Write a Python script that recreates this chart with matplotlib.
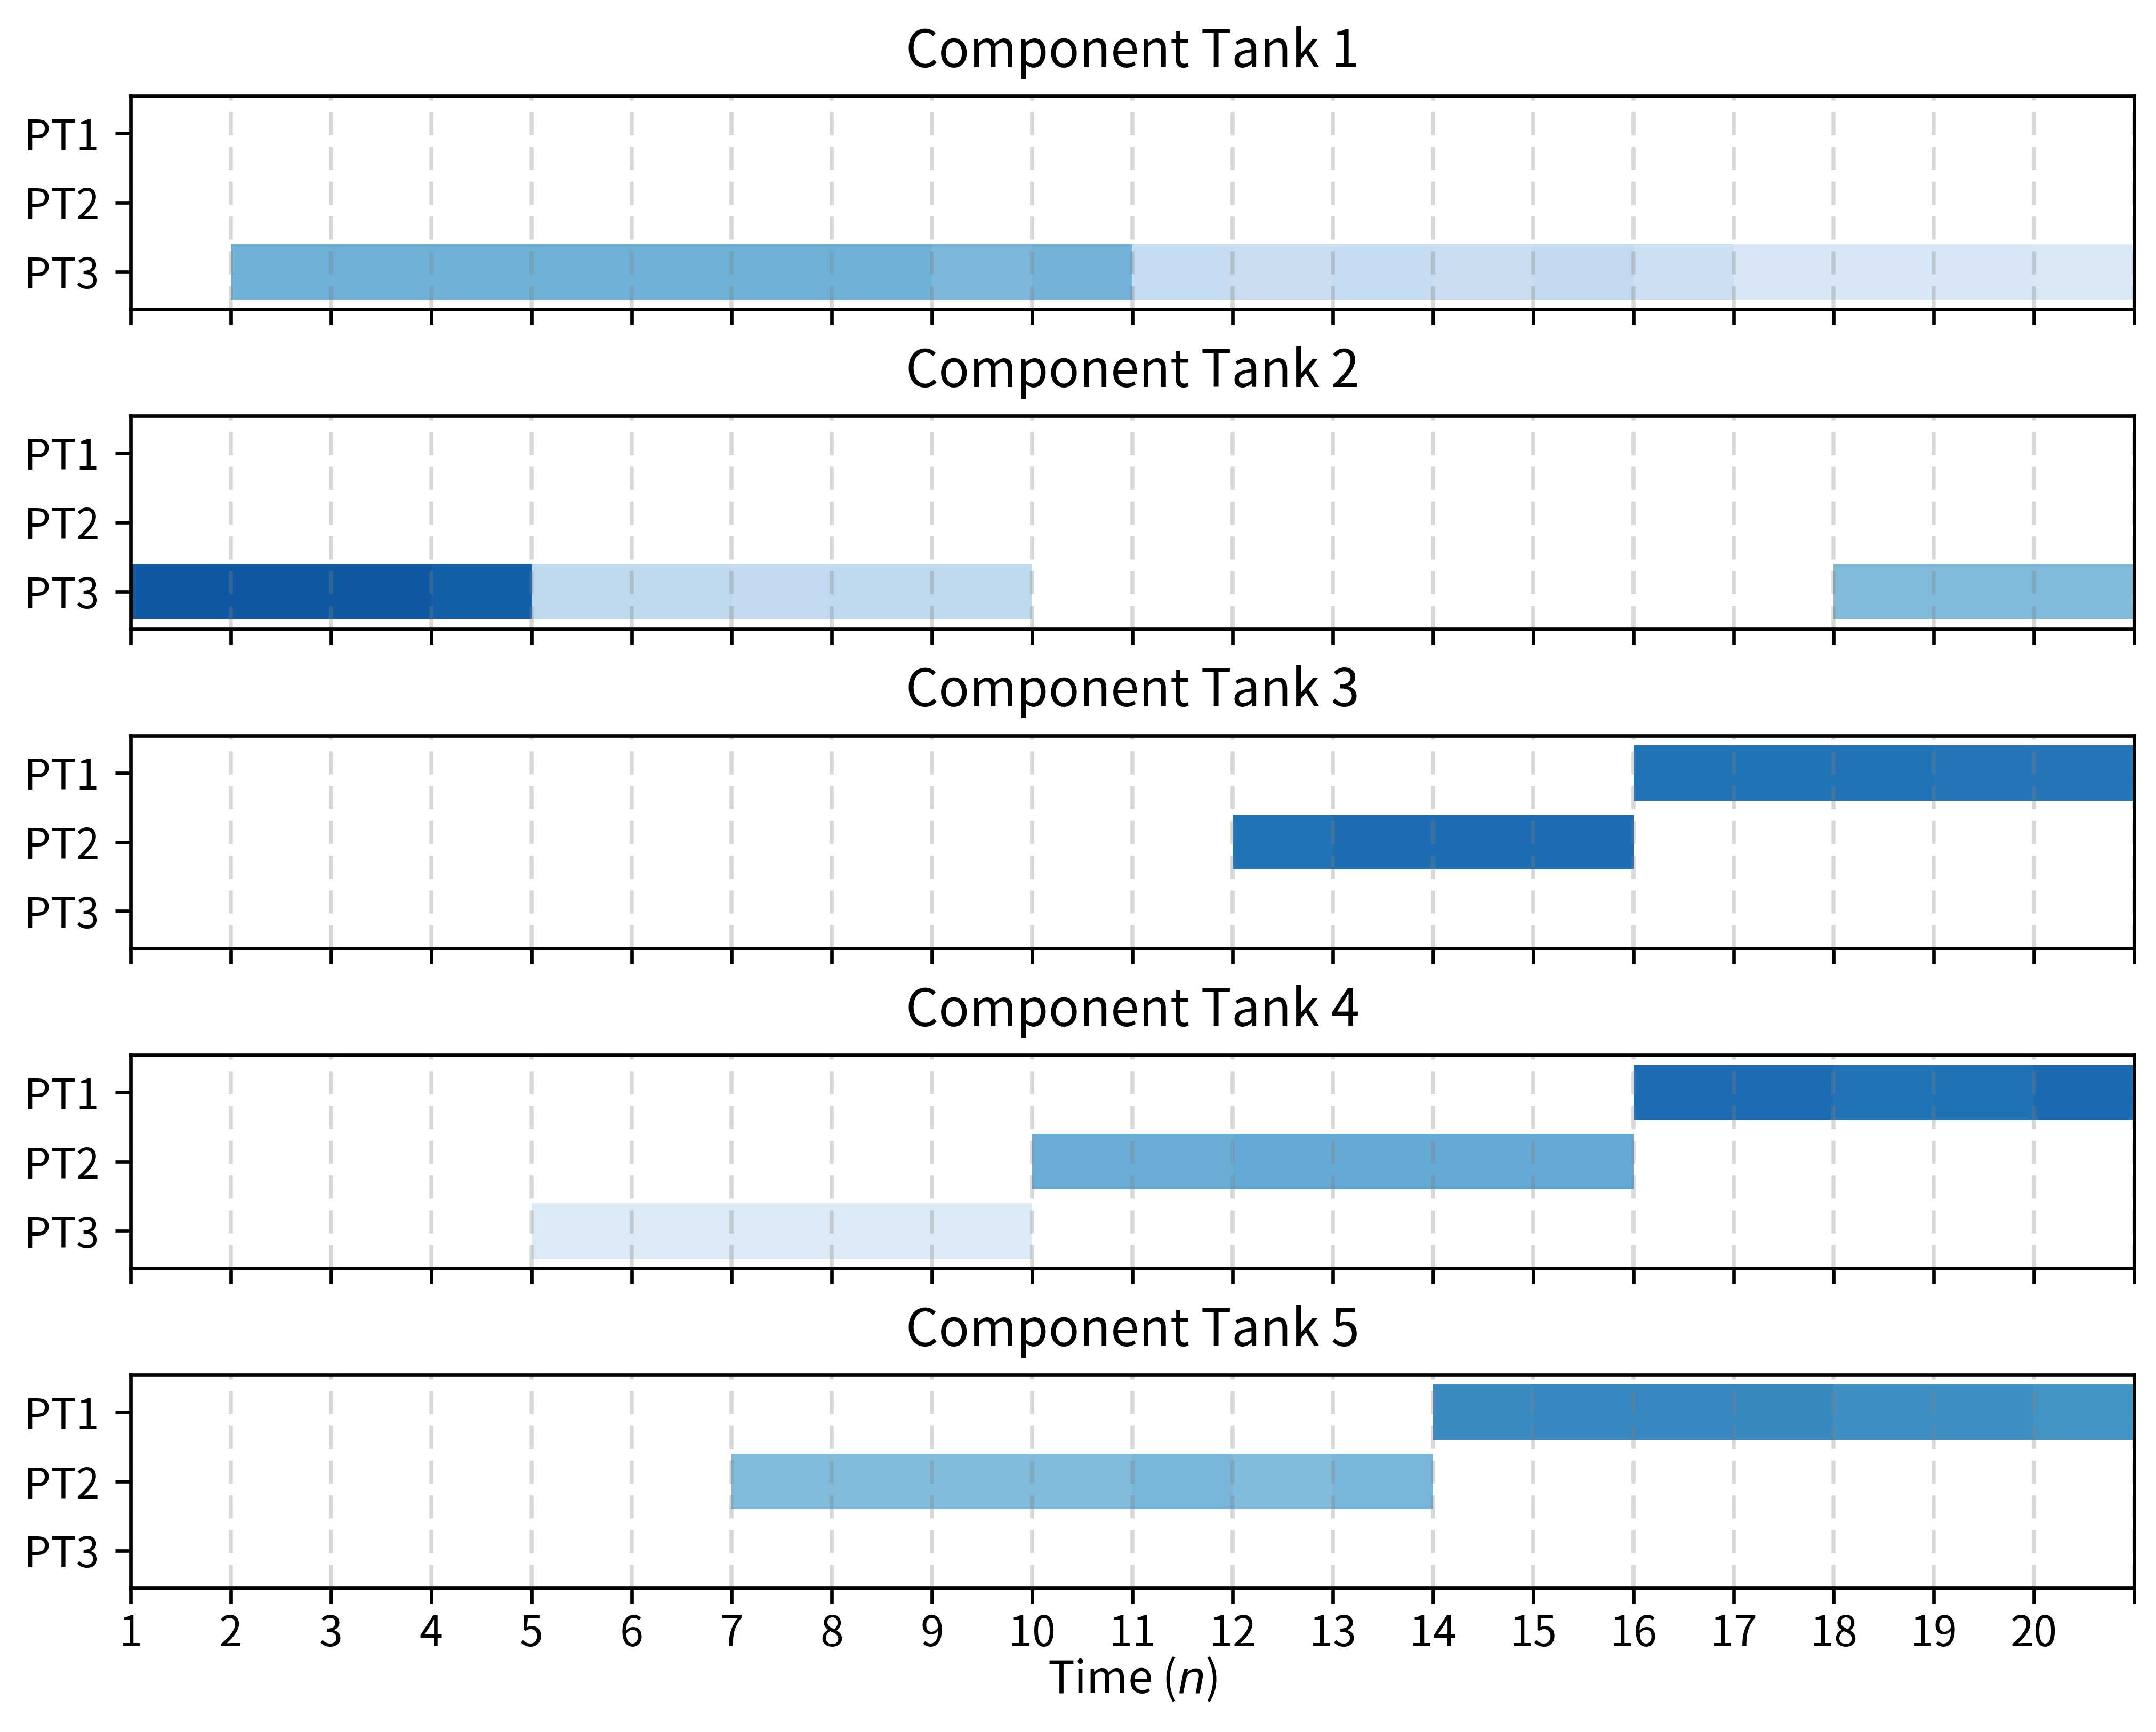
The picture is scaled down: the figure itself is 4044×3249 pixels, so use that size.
"""Gantt-style schedule of component tanks feeding product tanks PT1-PT3.

Each bar is split into one cell per time step; the cell colour is the tank
level at that step, mapped through the Blues colormap.
"""
import matplotlib
matplotlib.use("Agg")
import matplotlib.pyplot as plt  # noqa: E402
from matplotlib.colors import Normalize  # noqa: E402

plt.rcParams["font.family"] = ["Noto Sans CJK SC", "DejaVu Sans"]
plt.rcParams["axes.unicode_minus"] = False

PRODUCTS = ["PT1", "PT2", "PT3"]
TANK_TITLES = [f"Component Tank {i}" for i in range(1, 6)]
TIME_TICKS = list(range(1, 22))
TIME_LABELS = [str(t) for t in range(1, 21)] + [""]

# (product tank, first time step, level per step)
TANK1 = [
    ("PT3", 2, [0.49, 0.49, 0.49, 0.49, 0.49, 0.49, 0.49, 0.46, 0.48,
                0.25, 0.234, 0.25, 0.234, 0.259, 0.214,
                0.16, 0.16, 0.16, 0.15]),
]
TANK2 = [
    ("PT3", 1, [0.845, 0.845, 0.845, 0.815,
                0.275, 0.275, 0.26, 0.275, 0.275]),
    ("PT3", 18, [0.449, 0.449, 0.449]),
]
TANK3 = [
    ("PT2", 12, [0.745, 0.765, 0.765, 0.765]),
    ("PT1", 16, [0.746, 0.746, 0.746, 0.731, 0.731]),
]
TANK4 = [
    ("PT3", 5, [0.135, 0.135, 0.135, 0.135, 0.135]),
    ("PT2", 10, [0.503, 0.503, 0.521, 0.521, 0.521, 0.521]),
    ("PT1", 16, [0.765, 0.765, 0.745, 0.752, 0.775]),
]
TANK5 = [
    ("PT2", 7, [0.449, 0.449, 0.449, 0.449, 0.466, 0.444, 0.466]),
    ("PT1", 14, [0.652, 0.667, 0.667, 0.659, 0.636, 0.636, 0.619]),
]
TANKS = [TANK1, TANK2, TANK3, TANK4, TANK5]


def main() -> None:
    cmap = plt.cm.Blues
    norm = Normalize(0, 1)

    fig, axes = plt.subplots(5, 1, sharex=True, figsize=(4044 / 600, 3249 / 600))
    fig.subplots_adjust(left=0.0606, right=0.9899, top=0.9446, bottom=0.0831,
                        hspace=0.5)

    for ax, title, segments in zip(axes, TANK_TITLES, TANKS):
        for product, start, levels in segments:
            row = PRODUCTS.index(product)
            for k, level in enumerate(levels):
                ax.barh(row, 1, left=start + k, height=0.8,
                        color=cmap(norm(level)), linewidth=0)
        ax.set_title(title, fontsize=11.5, pad=6.5)
        ax.set_yticks(range(len(PRODUCTS)), PRODUCTS, fontsize=9.5)
        ax.set_ylim(2.54, -0.54)
        ax.grid(axis="x", color="gray", alpha=0.3, linewidth=0.9,
                dashes=(5.8, 2.9))

    axes[-1].set_xlim(1, 21)
    axes[-1].set_xticks(TIME_TICKS, TIME_LABELS, fontsize=9.5)
    axes[-1].tick_params(axis="x", pad=2)
    axes[-1].set_xlabel("Time ($n$)", fontsize=10, labelpad=0)

    fig.savefig("out.png", dpi=600)
    plt.close(fig)


if __name__ == "__main__":
    main()
